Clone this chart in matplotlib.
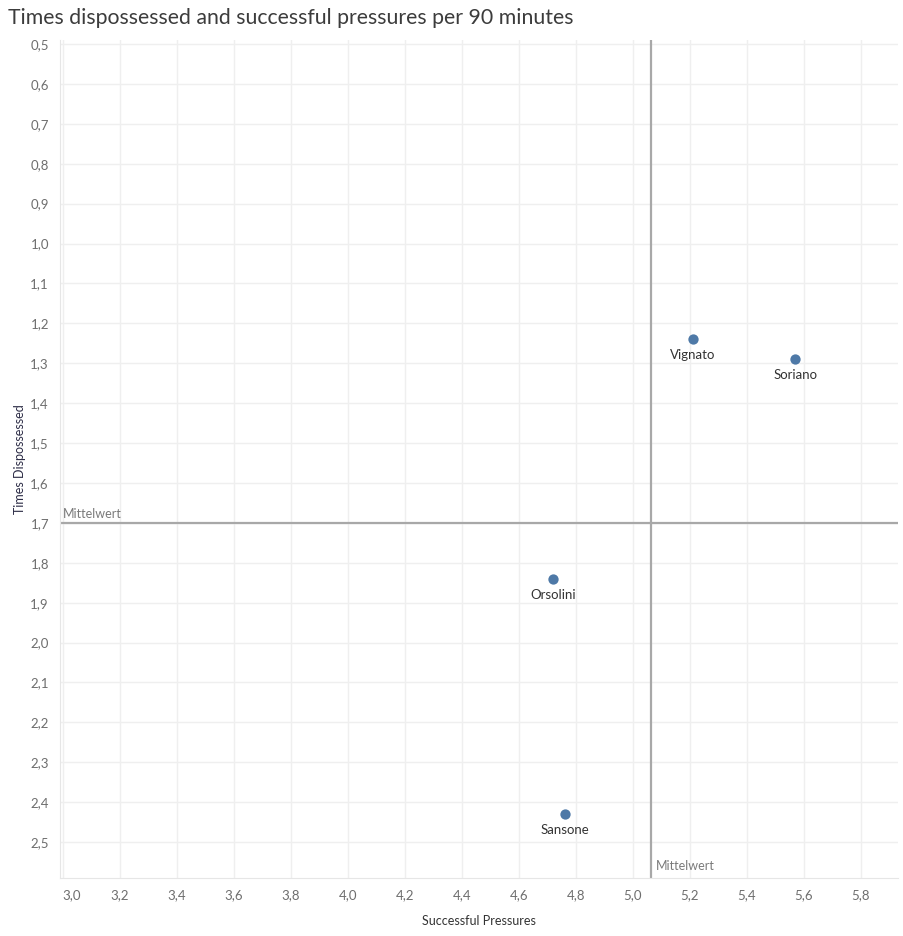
import numpy as np
import matplotlib.pyplot as plt
from matplotlib.ticker import FuncFormatter, MultipleLocator

players = ["Vignato", "Soriano", "Orsolini", "Sansone"]
successful_pressures = [5.21, 5.57, 4.72, 4.76]
times_dispossessed = [1.24, 1.29, 1.84, 2.43]

plt.rcParams['font.family'] = ['Lato', 'DejaVu Sans']

x = np.array(successful_pressures)
y = np.array(times_dispossessed)
x_mean = x.mean()
y_mean = y.mean()

fig = plt.figure(figsize=(9.04, 9.36), dpi=100)
ax = fig.add_axes([60 / 904, 1 - 878 / 936, 838 / 904, 838 / 936])

ax.set_xlim(2.99, 5.93)
ax.set_ylim(2.59, 0.49)

ax.xaxis.set_major_locator(MultipleLocator(0.2))
ax.yaxis.set_major_locator(MultipleLocator(0.1))
comma = FuncFormatter(lambda v, p: f"{v:.1f}".replace(".", ","))
ax.xaxis.set_major_formatter(comma)
ax.yaxis.set_major_formatter(comma)

ax.grid(True, color='#efefef', linewidth=1)
ax.set_axisbelow(True)
for s in ['top', 'right']:
    ax.spines[s].set_visible(False)
for s in ['left', 'bottom']:
    ax.spines[s].set_color('#e6e6e6')
ax.tick_params(length=0, labelsize=9.5, labelcolor='#6e6e6e', pad=8)

# erstes x-Label nach rechts schieben wie in Tableau
fig.canvas.draw()
for lab in ax.get_xticklabels():
    if lab.get_text() == "3,0":
        lab.set_ha('left')

# Mittelwert-Linien
ax.axvline(x_mean, color='#a8a8a8', linewidth=1.6, zorder=2)
ax.axhline(y_mean, color='#a8a8a8', linewidth=1.6, zorder=2)
ax.text(x_mean + 0.015, 2.575, "Mittelwert", fontsize=9, color='#7a7a7a',
        ha='left', va='bottom')
ax.text(3.0, y_mean - 0.008, "Mittelwert", fontsize=9, color='#7a7a7a',
        ha='left', va='bottom')

ax.scatter(x, y, s=55, color='#4e79a7', zorder=3, linewidths=0)
for name, xi, yi in zip(players, x, y):
    ax.text(xi, yi + 0.025, name, fontsize=9.5, color='#333333',
            ha='center', va='top')

ax.set_xlabel("Successful Pressures", fontsize=9, color='#333333', labelpad=10)
ax.set_ylabel("Times Dispossessed", fontsize=9, color='#2b2b45', labelpad=3)

fig.text(8 / 904, 1 - 18 / 936, "Times dispossessed and successful pressures per 90 minutes",
         fontsize=15.3, color='#3c3c3c', ha='left', va='center')

fig.savefig("out.png", dpi=100)
